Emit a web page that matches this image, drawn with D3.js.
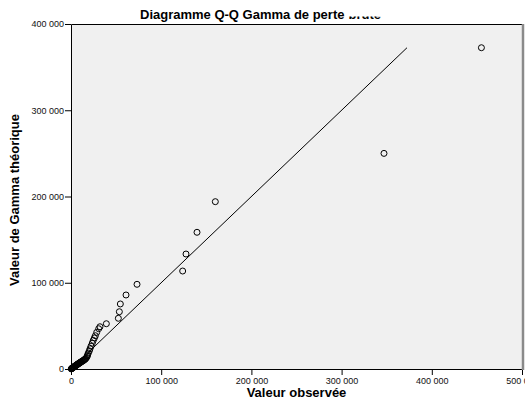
<!DOCTYPE html>
<html><head><meta charset="utf-8">
<script src="https://cdn.jsdelivr.net/npm/d3@7"></script>
<style>
body{margin:0;background:#fff}
svg{display:block}
text{font-family:"Liberation Sans",Arial,Helvetica,sans-serif}
</style>
</head><body>
<svg id="chart" width="525" height="410"></svg>
<script>
// Observed sorted losses and matching Gamma quantiles
const observed = [
  300, 600, 900, 1200, 1500, 1800, 2100, 2400, 2800, 3200,
  3600, 4000, 4400, 4800, 5200, 5600, 6000, 6400, 6800, 7200,
  7600, 8000, 8500, 9000, 9500, 10000, 10500, 11000, 11600, 12200,
  12800, 13400, 14000, 14600, 15200, 15800, 16400,
  17400, 18100, 18500, 19200, 20300, 21100, 22200, 23600, 24700, 25900,
  27000, 28500, 30700, 32100, 39200, 52500, 53600, 54700, 61000, 73200,
  123800, 127500, 139700, 160000, 347000, 455000
];
const theoretical = [
  100, 350, 600, 850, 1100, 1350, 1600, 1850, 2100, 2400,
  2700, 3000, 3300, 3600, 3900, 4200, 4500, 4800, 5100, 5400,
  5700, 6000, 6350, 6700, 7050, 7400, 7750, 8100, 8500, 8900,
  9300, 9700, 10100, 10600, 11100, 11600, 12200,
  13500, 15100, 16600, 18600, 21000, 23500, 26500, 30000, 33200, 36000,
  38600, 42500, 46700, 49000, 52500, 58800, 66400, 75400, 85800, 98200,
  113600, 133300, 158500, 194000, 250000, 372500
];
// Reference diagonal (y = x) end values
const refLine = [0, 372500];
const xTicks = [0, 100000, 200000, 300000, 400000, 500000];
const yTicks = [0, 100000, 200000, 300000, 400000];
const titleMain = "Diagramme Q-Q Gamma de perte";
const titleTail = "brute";
const xTitle = "Valeur observée";
const yTitle = "Valeur de Gamma théorique";

const plot = {left: 71, right: 522, top: 24, bottom: 369};
const svg = d3.select("#chart");

const x = d3.scaleLinear().domain([0, 500000]).range([plot.left, plot.right]);
const y = d3.scaleLinear().domain([0, 400000]).range([plot.bottom, plot.top]);
const fmt = v => d3.format(",")(v).replace(/,/g, "\u00a0");

// plot background
svg.append("rect")
  .attr("x", plot.left).attr("y", plot.top)
  .attr("width", plot.right - plot.left).attr("height", plot.bottom - plot.top)
  .attr("fill", "#f0f0f0");

// axes
const xAxis = svg.append("g")
  .attr("transform", `translate(0,${plot.bottom})`)
  .call(d3.axisBottom(x).tickValues(xTicks).tickFormat(fmt).tickSize(6).tickSizeOuter(0));
const yAxis = svg.append("g")
  .attr("transform", `translate(${plot.left},0)`)
  .call(d3.axisLeft(y).tickValues(yTicks).tickFormat(fmt).tickSize(6).tickSizeOuter(0));
[xAxis, yAxis].forEach(g => {
  g.select(".domain").remove();
  g.selectAll(".tick line").attr("stroke", "#000");
  g.selectAll(".tick text").attr("fill", "#111").style("font-size", "9px")
    .style("font-family", '"Liberation Sans",Arial,sans-serif');
});
xAxis.selectAll(".tick text").attr("y", 9);
yAxis.selectAll(".tick text").attr("x", -7);

// frame
svg.append("path")
  .attr("d", `M${plot.left + 0.5},${plot.bottom + 0.5}V${plot.top + 0.5}H${plot.right}`)
  .attr("fill", "none").attr("stroke", "#000");
svg.append("path")
  .attr("d", `M${plot.left},${plot.bottom + 0.5}H${plot.right}`)
  .attr("fill", "none").attr("stroke", "#000");
svg.append("line")
  .attr("x1", plot.right + 1).attr("x2", plot.right + 1)
  .attr("y1", plot.top).attr("y2", plot.bottom + 1)
  .attr("stroke", "#8a8a8a").attr("stroke-width", 2.5);

// reference line
svg.append("line")
  .attr("x1", x(refLine[0])).attr("y1", y(refLine[0]))
  .attr("x2", x(refLine[1])).attr("y2", y(refLine[1]))
  .attr("stroke", "#000").attr("stroke-width", 1);

// points
svg.append("g").selectAll("circle")
  .data(observed.map((o, i) => [o, theoretical[i]]))
  .join("circle")
  .attr("cx", d => x(d[0])).attr("cy", d => y(d[1]))
  .attr("r", 3)
  .attr("fill", "none").attr("stroke", "#000").attr("stroke-width", 1);

// titles
const t = svg.append("text")
  .attr("x", 140).attr("y", 18.5)
  .style("font-size", "13px").style("font-weight", "bold").attr("fill", "#000")
  .text(titleMain);
const tailX = 140 + t.node().getComputedTextLength() + 4;
svg.append("clipPath").attr("id", "tailClip")
  .append("rect").attr("x", tailX - 2).attr("y", 16.6).attr("width", 60).attr("height", 6);
svg.append("text")
  .attr("x", tailX).attr("y", 18.5)
  .attr("clip-path", "url(#tailClip)")
  .style("font-size", "13px").style("font-weight", "bold").attr("fill", "#000")
  .text(titleTail);

svg.append("text")
  .attr("x", (plot.left + plot.right) / 2).attr("y", 397)
  .attr("text-anchor", "middle")
  .style("font-size", "13px").style("font-weight", "bold").attr("fill", "#000")
  .text(xTitle);

svg.append("text")
  .attr("transform", "translate(19,200) rotate(-90)")
  .attr("text-anchor", "middle")
  .style("font-size", "13px").style("font-weight", "bold").attr("fill", "#000")
  .text(yTitle);
</script>
</body></html>
